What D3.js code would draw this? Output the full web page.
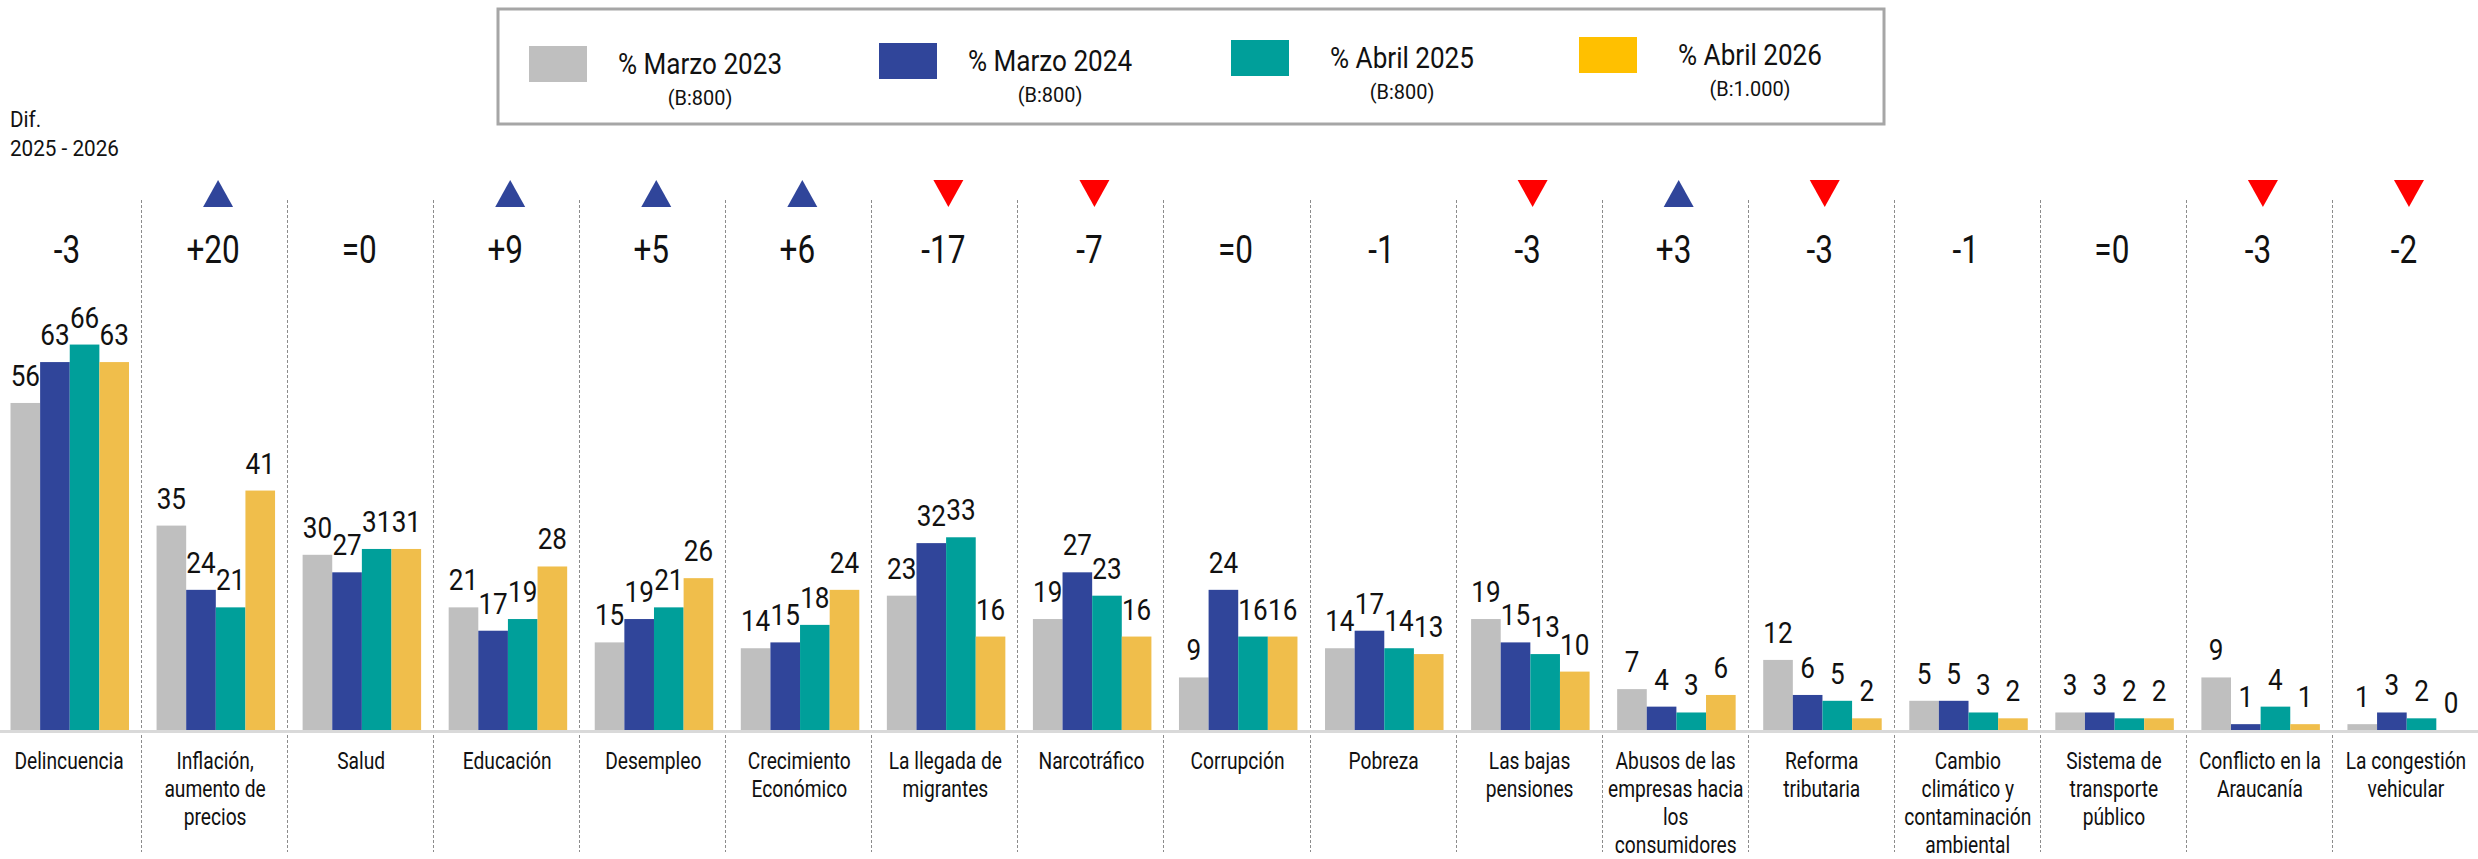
<!DOCTYPE html>
<html>
<head>
<meta charset="utf-8">
<script src="https://cdn.jsdelivr.net/npm/d3@7"></script>
<style>
  body { margin: 0; background: #fff; }
  text { font-family: Roboto, "Liberation Sans", sans-serif; fill: #111; }
</style>
</head>
<body>
<script>
const svgWidth = 2478;
const svgHeight = 859;

// data
const categories = [
    "Delincuencia", "Inflación,\naumento de\nprecios", "Salud", "Educación", "Desempleo",
    "Crecimiento\nEconómico", "La llegada de\nmigrantes", "Narcotráfico", "Corrupción", "Pobreza",
    "Las bajas\npensiones", "Abusos de las\nempresas hacia\nlos\nconsumidores", "Reforma\ntributaria",
    "Cambio\nclimático y\ncontaminación\nambiental", "Sistema de\ntransporte\npúblico",
    "Conflicto en la\nAraucanía", "La congestión\nvehicular"
];
const seriesNames = ["% Marzo 2023", "% Marzo 2024", "% Abril 2025", "% Abril 2026"];
const seriesBase = ["(B:800)", "(B:800)", "(B:800)", "(B:1.000)"];
const marzo2023 = [56, 35, 30, 21, 15, 14, 23, 19, 9, 14, 19, 7, 12, 5, 3, 9, 1];
const marzo2024 = [63, 24, 27, 17, 19, 15, 32, 27, 24, 17, 15, 4, 6, 5, 3, 1, 3];
const abril2025 = [66, 21, 31, 19, 21, 18, 33, 23, 16, 14, 13, 3, 5, 3, 2, 4, 2];
const abril2026 = [63, 41, 31, 28, 26, 24, 16, 16, 16, 13, 10, 6, 2, 2, 2, 1, 0];
const diffLabels = ["-3", "+20", "=0", "+9", "+5", "+6", "-17", "-7", "=0", "-1", "-3", "+3", "-3", "-1", "=0", "-3", "-2"];
const diffArrows = ["", "up", "", "up", "up", "up", "down", "down", "", "", "down", "up", "down", "", "", "down", "down"];

const barColors = ["#BFBFBF", "#30459A", "#009F9A", "#F0BE4B"];
const legendColors = ["#BFBFBF", "#30459A", "#009F9A", "#FFC000"];

const allSeries = [marzo2023, marzo2024, abril2025, abril2026];

const svg = d3.select("body").append("svg").attr("width", svgWidth).attr("height", svgHeight);

const x = d3.scaleBand().domain(d3.range(categories.length)).range([-5, svgWidth]);
const xInner = d3.scaleBand().domain(d3.range(4)).range([15.5, 134]);
const y = d3.scaleLinear().domain([0, 100]).range([730, 146]);

// separators
svg.selectAll(".sep").data(d3.range(1, categories.length)).join("line")
    .attr("class", "sep")
    .attr("x1", i => Math.round(x(i)) + 0.5)
    .attr("x2", i => Math.round(x(i)) + 0.5)
    .attr("y1", 200)
    .attr("y2", 852)
    .attr("stroke", "#8C8C8C")
    .attr("stroke-width", 1)
    .attr("stroke-dasharray", "3,2");

// baseline
svg.append("line")
    .attr("x1", 0).attr("x2", svgWidth)
    .attr("y1", y(0) + 1.5).attr("y2", y(0) + 1.5)
    .attr("stroke", "#D9D9D9")
    .attr("stroke-width", 3);

// bars
const groups = svg.selectAll(".cat").data(categories).join("g")
    .attr("class", "cat")
    .attr("transform", (d, i) => `translate(${x(i)},0)`);

groups.each(function (d, ci) {
    const g = d3.select(this);
    allSeries.forEach(function (values, si) {
        const v = values[ci];
        g.append("rect")
            .attr("x", xInner(si))
            .attr("width", xInner.bandwidth())
            .attr("y", y(v))
            .attr("height", y(0) - y(v))
            .attr("fill", barColors[si]);
        g.append("text")
            .attr("transform", `translate(${xInner(si) + xInner.bandwidth() / 2},${y(v) - 17}) scale(0.9,1)`)
            .attr("text-anchor", "middle")
            .attr("font-size", 29)
            .text(v);
    });

    // category label (4th line sits right at the bottom edge)
    const lines = d.split("\n");
    const t = g.append("text")
        .attr("transform", `translate(${x.bandwidth() / 2 + 1},0) scale(0.8,1)`)
        .attr("text-anchor", "middle")
        .attr("font-size", 24);
    lines.forEach(function (line, li) {
        t.append("tspan")
            .attr("x", 0)
            .attr("y", 769 + li * 28)
            .text(line);
    });

    // difference
    g.append("text")
        .attr("transform", `translate(${x.bandwidth() / 2 - 1},263) scale(0.83,1)`)
        .attr("text-anchor", "middle")
        .attr("font-size", 38)
        .text(diffLabels[ci]);

    const cx = x.bandwidth() / 2 + 4;
    if (diffArrows[ci] === "up") {
        g.append("path")
            .attr("d", `M${cx - 15},207 L${cx + 15},207 L${cx},180 Z`)
            .attr("fill", "#30459A");
    } else if (diffArrows[ci] === "down") {
        g.append("path")
            .attr("d", `M${cx - 15},180 L${cx + 15},180 L${cx},207 Z`)
            .attr("fill", "#FF0000");
    }
});

// dif header
svg.append("text").attr("transform", "translate(10,127) scale(0.94,1)").attr("font-size", 22).text("Dif.");
svg.append("text").attr("transform", "translate(10,156) scale(0.94,1)").attr("font-size", 22).text("2025 - 2026");

// legend
svg.append("rect")
    .attr("x", 498).attr("y", 9)
    .attr("width", 1386).attr("height", 115)
    .attr("fill", "none")
    .attr("stroke", "#A6A6A6")
    .attr("stroke-width", 3);

const legendX = [529, 879, 1231, 1579];
const legend = svg.selectAll(".leg").data(seriesNames).join("g")
    .attr("class", "leg")
    .attr("transform", (d, i) => `translate(${legendX[i]},${46 - i * 3})`);

legend.append("rect")
    .attr("width", 58).attr("height", 36)
    .attr("fill", (d, i) => legendColors[i]);

legend.append("text")
    .attr("transform", "translate(171,28) scale(0.9,1)")
    .attr("text-anchor", "middle")
    .attr("font-size", 29)
    .text(d => d);

legend.append("text")
    .attr("transform", "translate(171,59) scale(0.95,1)")
    .attr("text-anchor", "middle")
    .attr("font-size", 21)
    .text((d, i) => seriesBase[i]);
</script>
</body>
</html>
